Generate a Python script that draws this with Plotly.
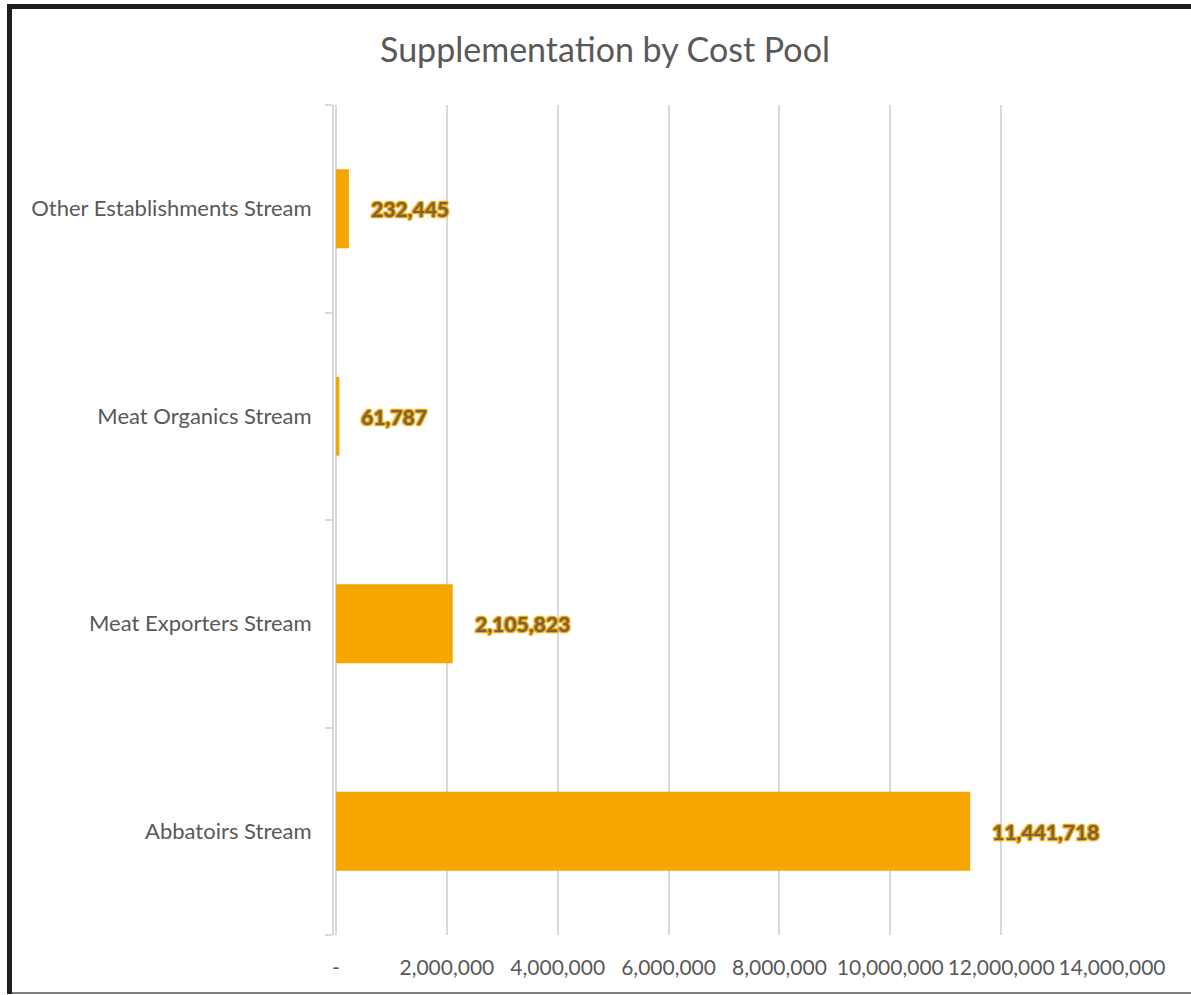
import plotly.graph_objects as go

categories = ["Abbatoirs Stream", "Meat Exporters Stream", "Meat Organics Stream", "Other Establishments Stream"]
values = [11441718, 2105823, 61787, 232445]
tick_vals = [0, 2000000, 4000000, 6000000, 8000000, 10000000, 12000000, 14000000]
tick_text = ["-", "2,000,000", "4,000,000", "6,000,000", "8,000,000", "10,000,000", "12,000,000", "14,000,000"]

BAR = "#F5A700"
GRAY = "#595959"
GRID = "#D9D9D9"

W, H = 1191, 995
L, R, T, B = 334, 79, 105, 60
pw, ph = W - L - R, H - T - B

def px_x(p):
    return (p - L) / pw

def px_y(p):
    return (H - B - p) / ph

fig = go.Figure()
fig.add_trace(go.Bar(
    y=categories, x=values, orientation="h",
    marker=dict(color=BAR, line=dict(width=0)),
    hoverinfo="skip",
))

shadow = ", ".join(f"{dx}px {dy}px 1px {BAR}" for dx, dy in [(1, 1), (-1, -1), (1, -1), (-1, 1), (1, 0), (-1, 0), (0, 1), (0, -1)])
for c, v in zip(categories, values):
    fig.add_annotation(
        x=v, y=c, xref="x", yref="y", text=f"{v:,}", showarrow=False,
        xanchor="left", yanchor="middle", xshift=20,
        font=dict(family="Lato", size=21, color="#736448", weight="bold", shadow=shadow),
    )

shapes = [
    dict(type="line", xref="paper", yref="paper", x0=px_x(9.5), x1=px_x(9.5), y0=px_y(994), y1=px_y(4),
         line=dict(color="#1E1E1E", width=5), layer="above"),
    dict(type="line", xref="paper", yref="paper", x0=px_x(7), x1=px_x(W + 5), y0=px_y(6.5), y1=px_y(6.5),
         line=dict(color="#1E1E1E", width=5), layer="above"),
    dict(type="line", xref="paper", yref="paper", x0=px_x(12), x1=px_x(W), y0=px_y(993), y1=px_y(993),
         line=dict(color="#7F7F7F", width=2), layer="above"),
]

fig.update_layout(
    width=W, height=H,
    margin=dict(l=L, r=R, t=T, b=B, pad=0),
    paper_bgcolor="white", plot_bgcolor="white",
    showlegend=False,
    bargap=0.62,
    title=dict(text="Supplementation by Cost Pool", x=(605) / W, xanchor="center",
               y=1 - 50 / H, yanchor="middle",
               font=dict(family="Lato", size=34, color=GRAY)),
    font=dict(family="Lato", color=GRAY),
    shapes=shapes,
    xaxis=dict(range=[-36000, 14000000], tickvals=tick_vals, ticktext=tick_text,
               showgrid=True, gridcolor=GRID, gridwidth=1.5, zeroline=False,
               showline=False, ticks="", tickfont=dict(family="Lato", size=21, color=GRAY),
               ticklabelstandoff=18, fixedrange=True),
    yaxis=dict(categoryorder="array", categoryarray=categories, showgrid=False,
               showline=True, linecolor=GRID, linewidth=2, ticks="outside", ticklen=7,
               tickcolor=GRID, tickwidth=1.5, tickson="boundaries",
               tickfont=dict(family="Lato", size=22, color=GRAY), ticklabelstandoff=16,
               fixedrange=True),
)

fig.write_html("out.html", config={"displayModeBar": False},
               post_script="document.body.style.margin='0px';")
